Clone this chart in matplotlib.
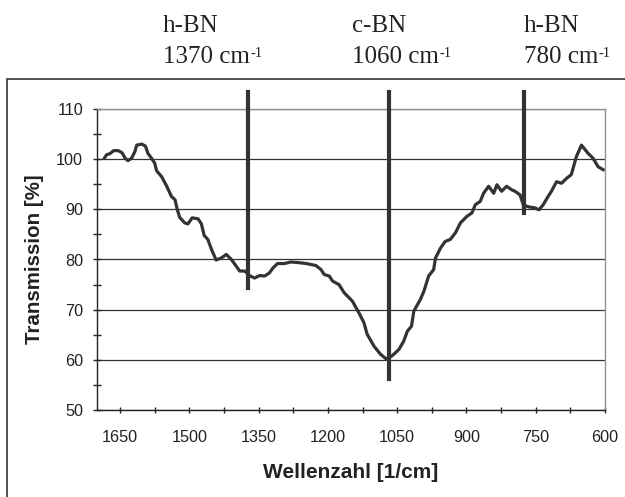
import numpy as np
import matplotlib
matplotlib.use('Agg')
import matplotlib.pyplot as plt
from matplotlib.patches import Rectangle
from matplotlib.ticker import MultipleLocator, FixedLocator

# IR spectrum (wavenumber [1/cm], transmission [%])
wavenumber = [1684, 1679, 1672, 1664, 1654, 1646, 1639, 1633, 1625, 1618,
              1614, 1603, 1595, 1590, 1582, 1575, 1571, 1560, 1549, 1539,
              1531, 1526, 1521, 1510, 1503, 1494, 1481, 1474, 1468, 1460,
              1452, 1442, 1431, 1420, 1409, 1398, 1391, 1380, 1370, 1359,
              1348, 1337, 1327, 1319, 1309, 1294, 1280, 1266, 1247, 1226,
              1215, 1208, 1197, 1190, 1176, 1165, 1147, 1133, 1122, 1115,
              1100, 1086, 1074, 1061, 1046, 1036, 1028, 1019, 1014, 1000,
              992, 982, 971, 967, 956, 946, 935, 924, 913, 899,
              888, 881, 870, 863, 852, 841, 834, 824, 813, 802,
              795, 784, 777, 766, 752, 743, 734, 723, 716, 705,
              694, 683, 673, 662, 651, 637, 626, 615, 604]
transmission = [100.2, 100.9, 101.1, 101.7, 101.7, 101.3, 100.2, 99.7, 100.2, 101.5,
                102.8, 103.0, 102.6, 101.2, 100.2, 99.2, 97.7, 96.5, 94.6, 92.6,
                91.9, 89.9, 88.4, 87.3, 87.1, 88.3, 88.1, 87.1, 84.8, 84.0,
                82.0, 79.9, 80.3, 81.0, 80.0, 78.6, 77.7, 77.7, 76.8, 76.3,
                76.8, 76.7, 77.3, 78.3, 79.2, 79.2, 79.5, 79.4, 79.2, 78.8,
                78.0, 77.0, 76.7, 75.7, 75.0, 73.4, 71.7, 69.4, 67.4, 65.1,
                62.7, 61.1, 60.2, 60.8, 62.1, 63.7, 65.7, 66.7, 69.7, 72.0,
                73.7, 76.7, 78.0, 80.3, 82.3, 83.6, 84.0, 85.3, 87.3, 88.6,
                89.3, 90.9, 91.6, 93.2, 94.6, 93.2, 94.9, 93.6, 94.6, 93.9,
                93.6, 92.9, 90.9, 90.5, 90.3, 89.9, 90.9, 92.6, 93.6, 95.5,
                95.2, 96.2, 96.9, 100.5, 102.8, 101.2, 100.2, 98.5, 97.9]

# band markers: where the bar sits, how far down it reaches, and the labels
band_pos = [1372, 1068, 775]
band_low = [74.4, 56.1, 89.3]
band_name = ['h-BN', 'c-BN', 'h-BN']
band_label = ['1370 cm', '1060 cm', '780 cm']
band_text_x = [163, 352, 524]   # left edge of label, in pixels

fig = plt.figure(figsize=(6.25, 4.97), dpi=100)
ax = fig.add_axes([97 / 625, 1 - 410 / 497, 508 / 625, 301 / 497])

ax.plot(wavenumber, transmission, color='#333333', lw=2.3, solid_joinstyle='round', zorder=3)

for x, lo in zip(band_pos, band_low):
    ax.plot([x, x], [lo, 113.4], color='#333333', lw=3.0, clip_on=False, zorder=4)

ax.set_xlim(1700, 600)
ax.set_ylim(50, 110)
ax.xaxis.set_major_locator(FixedLocator([1650, 1500, 1350, 1200, 1050, 900, 750, 600]))
ax.xaxis.set_minor_locator(FixedLocator([1575, 1425, 1275, 1125, 975, 825, 675]))
ax.yaxis.set_major_locator(MultipleLocator(10))
ax.yaxis.set_minor_locator(MultipleLocator(5))

ax.grid(axis='y', which='major', color='#333333', lw=0.9)
ax.set_axisbelow(True)

for side in ['top', 'right']:
    ax.spines[side].set_color('#9a8f8f')
    ax.spines[side].set_linewidth(1.0)
for side in ['left', 'bottom']:
    ax.spines[side].set_color('#222222')
    ax.spines[side].set_linewidth(1.0)

ax.tick_params(axis='x', which='both', direction='inout', length=5, width=1,
               color='#222222', labelsize=11.7, pad=12, labelcolor='#222222')
ax.tick_params(axis='y', which='both', direction='inout', length=6, width=1,
               color='#222222', labelsize=11.7, pad=7, labelcolor='#222222')
for lab in ax.get_xticklabels() + ax.get_yticklabels():
    lab.set_fontfamily('Liberation Sans')

ax.set_xlabel('Wellenzahl [1/cm]', fontsize=15, fontweight='bold',
              family='Liberation Sans', color='#222222', labelpad=13)
ax.set_ylabel('Transmission [%]', fontsize=14.8, fontweight='bold',
              family='Liberation Sans', color='#222222', labelpad=9)

# frame around the chart (runs off the right and bottom of the picture)
fig.patches.append(Rectangle((7 / 625, -0.1), 1.2, 0.1 + 1 - 79 / 497,
                             transform=fig.transFigure, fill=False,
                             edgecolor='#333333', lw=1.2))

for name, lab, px in zip(band_name, band_label, band_text_x):
    fig.text(px / 625, 1 - 32 / 497, name, family='Liberation Serif',
             fontsize=18, color='#222222', va='baseline')
    t = fig.text(px / 625, 1 - 63 / 497, lab, family='Liberation Serif',
                 fontsize=18, color='#222222', va='baseline')
    ax.annotate('-1', xy=(1, 1), xycoords=t, xytext=(0.3, -1), textcoords='offset points',
                family='Liberation Serif', fontsize=10.5, color='#222222',
                ha='left', va='top', annotation_clip=False)

fig.savefig('out.png', dpi=100)
